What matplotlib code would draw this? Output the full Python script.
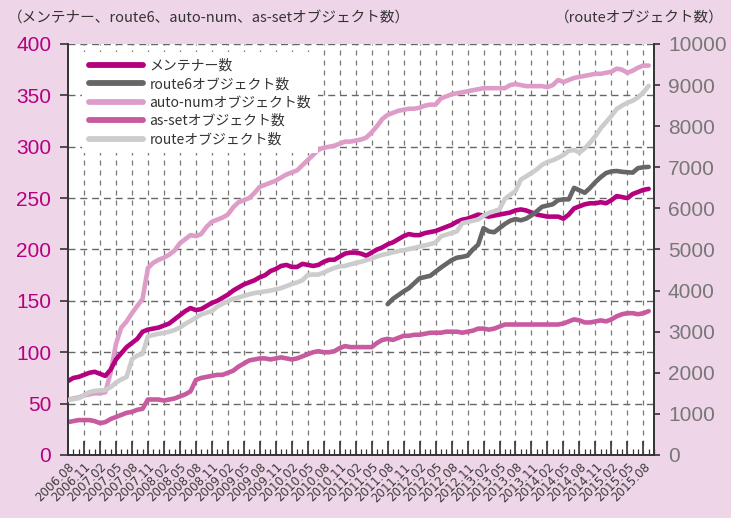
import numpy as np
import matplotlib
matplotlib.use("Agg")
import matplotlib.pyplot as plt
from matplotlib.ticker import MultipleLocator

plt.rcParams['font.family'] = ['Liberation Sans', 'Noto Sans CJK JP', 'DejaVu Sans']

# ---- data (monthly, starting 2006.08) ----
maintainer = [72, 75, 76, 78, 80, 81, 79, 77, 83, 93, 99, 105, 109, 113, 120, 122, 123, 124, 126, 128,
              132, 136, 140, 143, 141, 142, 145, 148, 150, 153, 156, 160, 163, 166, 168, 170, 173, 175, 179, 181,
              184, 185, 183, 183, 186, 185, 184, 185, 188, 190, 190, 193, 196, 197, 197, 196, 194, 197, 200, 202,
              205, 207, 210, 213, 215, 214, 214, 216, 217, 218, 220, 222, 224, 227, 229, 230, 232, 234, 233, 232,
              233, 234, 235, 236, 238, 239, 238, 236, 234, 233, 232, 232, 232, 230, 234, 240, 242, 244, 245, 245,
              246, 245, 248, 252, 251, 250, 254, 256, 258, 259]

autonum = [54, 55, 56, 58, 59, 60, 60, 61, 80, 108, 124, 130, 138, 145, 152, 182, 187, 190, 192, 195,
           199, 206, 210, 214, 213, 215, 222, 227, 229, 231, 234, 241, 246, 248, 250, 255, 261, 263, 265, 267,
           270, 273, 275, 277, 282, 287, 292, 297, 299, 300, 301, 303, 305, 305, 306, 307, 309, 314, 320, 327,
           331, 333, 335, 336, 337, 337, 338, 340, 341, 341, 347, 349, 351, 352, 353, 354, 355, 356, 357, 357,
           357, 357, 357, 360, 361, 360, 359, 359, 359, 359, 358, 360, 365, 363, 365, 367, 368, 369, 370, 371,
           371, 372, 373, 376, 375, 372, 374, 377, 379, 379]

asset = [32, 33, 34, 34, 34, 33, 31, 32, 35, 37, 39, 41, 42, 44, 45, 54, 54, 54, 53, 54,
         55, 57, 59, 62, 73, 75, 76, 77, 78, 78, 80, 82, 86, 89, 92, 93, 94, 94, 93, 94,
         95, 94, 93, 94, 96, 98, 100, 101, 100, 100, 101, 104, 106, 105, 105, 105, 105, 105, 109, 112,
         113, 112, 114, 116, 116, 117, 117, 118, 119, 119, 119, 120, 120, 120, 119, 120, 121, 123, 123, 122,
         123, 125, 127, 127, 127, 127, 127, 127, 127, 127, 127, 127, 127, 128, 130, 132, 131, 129, 129, 130,
         131, 130, 132, 135, 137, 138, 138, 137, 138, 140]

route = [1340, 1360, 1380, 1450, 1530, 1560, 1570, 1580, 1650, 1760, 1840, 1900, 2330, 2420, 2460, 2890, 2920, 2950, 2970, 3000,
         3040, 3100, 3190, 3260, 3340, 3420, 3460, 3500, 3610, 3680, 3740, 3800, 3830, 3870, 3910, 3940, 3960, 3980, 4000, 4030,
         4060, 4110, 4160, 4200, 4250, 4380, 4390, 4390, 4440, 4500, 4550, 4590, 4600, 4640, 4670, 4700, 4740, 4780, 4830, 4870,
         4900, 4930, 4960, 4980, 5010, 5040, 5070, 5100, 5130, 5170, 5320, 5360, 5400, 5440, 5640, 5670, 5700, 5730, 5820, 5890,
         5930, 5980, 6230, 6330, 6420, 6700, 6780, 6860, 6950, 7060, 7130, 7170, 7230, 7300, 7400, 7420, 7360, 7460, 7600, 7760,
         7950, 8100, 8250, 8420, 8500, 8570, 8620, 8700, 8820, 8980]

route6_start = 60  # 2011.08
route6 = [3670, 3800, 3890, 3980, 4060, 4180, 4300, 4330, 4360, 4460, 4560, 4650, 4740, 4800, 4820, 4850, 5000, 5120, 5520, 5440,
          5420, 5520, 5620, 5700, 5740, 5710, 5750, 5830, 5930, 6040, 6070, 6100, 6200, 6220, 6220, 6500, 6440, 6380, 6500, 6640,
          6760, 6860, 6900, 6910, 6890, 6880, 6870, 6980, 7000, 7010]

xtick_labels = ["2006.08", "2006.11", "2007.02", "2007.05", "2007.08", "2007.11", "2008.02", "2008.05", "2008.08",
                "2008.11", "2009.02", "2009.05", "2009.08", "2009.11", "2010.02", "2010.05", "2010.08", "2010.11",
                "2011.02", "2011.05", "2011.08", "2011.11", "2012.02", "2012.05", "2012.08", "2012.11", "2013.02",
                "2013.05", "2013.08", "2013.11", "2014.02", "2014.05", "2014.08", "2014.11", "2015.02", "2015.05",
                "2015.08"]

labels = ["メンテナー数", "route6オブジェクト数", "auto-numオブジェクト数", "as-setオブジェクト数", "routeオブジェクト数"]
colors = ["#B5007F", "#666666", "#DE9DC8", "#C85AA0", "#CCCCCC"]

left_ticks = [0, 50, 100, 150, 200, 250, 300, 350, 400]
right_ticks = [0, 1000, 2000, 3000, 4000, 5000, 6000, 7000, 8000, 9000, 10000]

# ---- figure ----
W, H = 731, 518
fig = plt.figure(figsize=(W / 100, H / 100), dpi=100)
fig.patch.set_facecolor("#EED6E8")
ax = fig.add_axes([68 / W, 1 - 455 / H, (654 - 68) / W, (455 - 44) / H])
ax.set_facecolor("white")
ax2 = ax.twinx()

x_main = np.arange(len(maintainer))
x_r6 = np.arange(route6_start, route6_start + len(route6))

lw = 3.3
l1, = ax.plot(x_main, maintainer, color=colors[0], lw=lw, solid_capstyle="round", zorder=3)
l3, = ax.plot(x_main, autonum, color=colors[2], lw=lw, solid_capstyle="round", zorder=2)
l4, = ax.plot(x_main, asset, color=colors[3], lw=lw, solid_capstyle="round", zorder=2)
l2, = ax2.plot(x_r6, route6, color=colors[1], lw=lw, solid_capstyle="round", zorder=3)
l5, = ax2.plot(x_main, route, color=colors[4], lw=lw, solid_capstyle="round", zorder=4)

ax.set_xlim(0, 110)
ax.set_ylim(0, 400)
ax2.set_ylim(0, 10000)

ax.set_yticks(left_ticks)
ax2.set_yticks(right_ticks)
ax.set_xticks(np.arange(0, 3 * len(xtick_labels), 3))
ax.set_xticklabels(xtick_labels, rotation=45, ha="right", rotation_mode="anchor", fontsize=8.6,
                   color="#3a3a3a", family=["DejaVu Sans"])
ax.xaxis.set_minor_locator(MultipleLocator(1))

# grid
for v in left_ticks[1:]:
    ax.axhline(v, color="#666666", lw=1.0, ls=(0, (5, 3.5)), zorder=1)
for xv in np.arange(3, 110, 3):
    ax.axvline(xv, color="#777777", lw=0.9, ls=(0, (4, 4)), zorder=1)

# spines
for s in ["top"]:
    ax.spines[s].set_visible(False)
    ax2.spines[s].set_visible(False)
for a in (ax, ax2):
    for s in ["left", "right", "bottom"]:
        a.spines[s].set_color("#333333")
        a.spines[s].set_linewidth(1.2)

ax.tick_params(axis="y", which="major", direction="out", length=6, width=1.2, color="#333333",
               labelsize=15, labelcolor="#B5007F", pad=6)
ax2.tick_params(axis="y", which="major", direction="out", length=4, width=1.2, color="#333333",
                labelsize=15, labelcolor="#777777", pad=6)
ax.tick_params(axis="x", which="major", direction="in", length=10, width=1.2, color="#333333", pad=4)
ax.tick_params(axis="x", which="minor", direction="in", length=4, width=0.9, color="#333333")

for t in ax.get_yticklabels() + ax2.get_yticklabels():
    t.set_fontfamily(["Liberation Sans"])

# legend
leg = ax2.legend([l1, l2, l3, l4, l5], labels, loc="upper left", bbox_to_anchor=(0.012, 0.998),
                 frameon=True, fancybox=False, framealpha=1, edgecolor="none", facecolor="white",
                 handlelength=3.9, handletextpad=0.45, labelspacing=0.32, borderpad=0.5,
                 prop={"family": ["Noto Sans CJK JP"], "size": 10})
for t in leg.get_texts():
    t.set_color("#333333")
for h in leg.legend_handles:
    h.set_linewidth(4.2)
leg.set_zorder(10)

fig.text(8 / W, 1 - 18 / H, "（メンテナー、route6、auto-num、as-setオブジェクト数）", ha="left", va="center",
         fontsize=10.5, color="#333333", family=["Noto Sans CJK JP"])
fig.text(724 / W, 1 - 18 / H, "（routeオブジェクト数）", ha="right", va="center",
         fontsize=10.5, color="#333333", family=["Noto Sans CJK JP"])

fig.savefig("out.png", dpi=100, facecolor=fig.get_facecolor())
